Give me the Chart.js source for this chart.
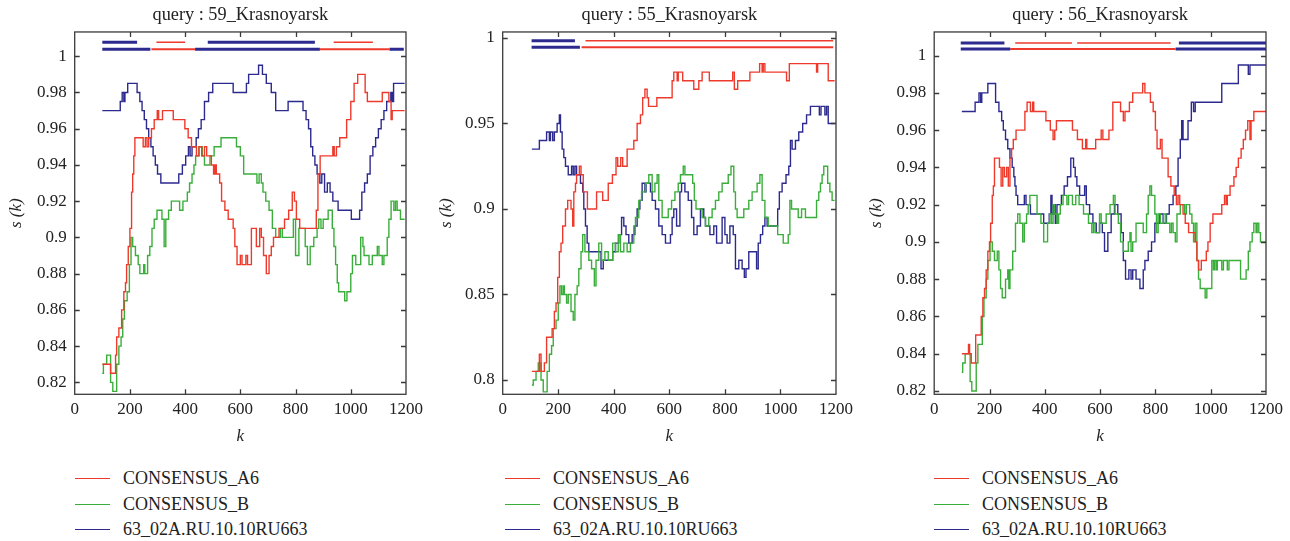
<!DOCTYPE html>
<html>
<head>
<meta charset="utf-8">
<script src="https://cdn.jsdelivr.net/npm/chart.js@4.4.1/dist/chart.umd.min.js"></script>
<style>
body { margin: 0; background: #fff; width: 1290px; height: 541px; overflow: hidden; position: relative; font-family: "Liberation Serif", "DejaVu Serif", serif; }
.panel { position: absolute; top: 0; width: 430px; height: 460px; }
.legend { position: absolute; top: 466px; font-size: 18px; color: #222; }
.legend div { position: relative; height: 25.5px; line-height: 25.5px; white-space: nowrap; padding-left: 48px; }
.legend span { position: absolute; left: 0; top: 12px; width: 35px; height: 1px; }
</style>
</head>
<body>

<div class="panel" style="left:0px"><canvas id="c1" width="430" height="460"></canvas></div>
<div class="panel" style="left:430px"><canvas id="c2" width="430" height="460"></canvas></div>
<div class="panel" style="left:860px"><canvas id="c3" width="430" height="460"></canvas></div>

<div class="legend" id="leg1" style="left:75px"></div>
<div class="legend" id="leg2" style="left:505px"></div>
<div class="legend" id="leg3" style="left:934px"></div>

<script>

// series names and colours
const seriesNames = ["CONSENSUS_A6", "CONSENSUS_B", "63_02A.RU.10.10RU663"];
const seriesColors = ["#ee3a2c", "#3aae3a", "#2c2a8e"];

const queries = ["59_Krasnoyarsk", "55_Krasnoyarsk", "56_Krasnoyarsk"];

// x ticks, y ticks
const kTicks = [0, 200, 400, 600, 800, 1000, 1200];
const yTicks1 = [0.82, 0.84, 0.86, 0.88, 0.9, 0.92, 0.94, 0.96, 0.98, 1];
const yTicks2 = [0.8, 0.85, 0.9, 0.95, 1];
const yTicks3 = [0.82, 0.84, 0.86, 0.88, 0.9, 0.92, 0.94, 0.96, 0.98, 1];

// ---- query 59 : [k, s(k)] step points
const q59Red = [[100,0.83],[130,0.825],[148,0.835],[152,0.845],[160,0.85],[170,0.86],[178,0.87],[184,0.875],[188,0.885],[194,0.895],[200,0.905],[206,0.925],[210,0.935],[214,0.945],[218,0.955],[248,0.95],[256,0.955],[262,0.95],[268,0.955],[278,0.96],[288,0.965],[299,0.97],[304,0.965],[318,0.97],[357,0.965],[399,0.96],[411,0.955],[423,0.95],[441,0.945],[450,0.95],[460,0.945],[470,0.95],[478,0.945],[495,0.94],[503,0.935],[508,0.94],[513,0.935],[525,0.93],[532,0.92],[544,0.915],[556,0.91],[574,0.905],[580,0.895],[588,0.885],[600,0.89],[606,0.885],[620,0.89],[626,0.885],[640,0.905],[658,0.895],[670,0.905],[676,0.9],[684,0.89],[694,0.88],[704,0.89],[712,0.895],[720,0.9],[740,0.905],[760,0.91],[775,0.915],[788,0.925],[796,0.92],[803,0.91],[815,0.905],[875,0.915],[881,0.935],[889,0.945],[935,0.95],[940,0.945],[948,0.95],[960,0.955],[985,0.965],[1000,0.975],[1012,0.985],[1025,0.99],[1052,0.98],[1060,0.975],[1114,0.98],[1138,0.975],[1146,0.965],[1150,0.97],[1195,0.97]];
const q59Green = [[100,0.825],[104,0.83],[116,0.835],[130,0.82],[138,0.815],[152,0.83],[160,0.84],[168,0.845],[174,0.855],[180,0.865],[190,0.87],[198,0.885],[204,0.9],[210,0.895],[220,0.89],[230,0.885],[236,0.88],[250,0.885],[254,0.88],[264,0.89],[272,0.895],[280,0.905],[288,0.91],[298,0.915],[316,0.91],[324,0.895],[330,0.91],[340,0.915],[350,0.92],[380,0.915],[392,0.92],[408,0.925],[416,0.93],[425,0.935],[432,0.94],[438,0.945],[450,0.95],[462,0.945],[470,0.94],[490,0.945],[505,0.95],[530,0.955],[586,0.95],[600,0.945],[612,0.935],[660,0.93],[668,0.935],[676,0.93],[682,0.925],[692,0.92],[704,0.915],[716,0.905],[728,0.9],[745,0.905],[752,0.9],[792,0.91],[800,0.89],[812,0.905],[835,0.895],[843,0.885],[853,0.895],[866,0.9],[878,0.905],[884,0.91],[892,0.905],[900,0.91],[918,0.915],[933,0.905],[939,0.895],[945,0.885],[951,0.875],[956,0.87],[978,0.865],[986,0.87],[1000,0.88],[1006,0.89],[1018,0.885],[1036,0.9],[1044,0.895],[1048,0.89],[1066,0.885],[1078,0.89],[1096,0.895],[1102,0.89],[1114,0.885],[1120,0.89],[1132,0.9],[1138,0.91],[1146,0.92],[1156,0.915],[1162,0.92],[1168,0.915],[1180,0.91],[1195,0.91]];
const q59Blue = [[100,0.97],[165,0.975],[172,0.98],[178,0.975],[182,0.98],[192,0.985],[226,0.98],[236,0.975],[244,0.97],[252,0.965],[260,0.96],[268,0.955],[276,0.95],[284,0.945],[292,0.94],[300,0.935],[312,0.93],[377,0.935],[390,0.94],[402,0.945],[412,0.95],[418,0.945],[425,0.95],[440,0.955],[448,0.96],[458,0.965],[470,0.975],[485,0.98],[500,0.985],[574,0.98],[622,0.985],[630,0.99],[666,0.995],[680,0.99],[694,0.985],[712,0.98],[728,0.97],[773,0.975],[827,0.97],[838,0.965],[847,0.96],[855,0.95],[862,0.945],[870,0.94],[878,0.935],[888,0.93],[895,0.935],[905,0.925],[915,0.93],[925,0.925],[935,0.92],[954,0.915],[1002,0.91],[1032,0.915],[1040,0.925],[1050,0.93],[1060,0.935],[1070,0.945],[1080,0.95],[1090,0.955],[1100,0.96],[1110,0.965],[1120,0.97],[1130,0.975],[1145,0.98],[1150,0.975],[1155,0.985],[1195,0.985]];

// ---- query 55
const q55Red = [[105,0.805],[132,0.815],[138,0.805],[150,0.81],[158,0.825],[178,0.83],[186,0.84],[192,0.845],[198,0.86],[204,0.875],[210,0.88],[216,0.89],[226,0.9],[234,0.905],[246,0.9],[252,0.89],[256,0.91],[262,0.915],[266,0.92],[276,0.925],[282,0.92],[290,0.91],[305,0.9],[338,0.91],[360,0.905],[380,0.915],[395,0.92],[408,0.93],[414,0.925],[425,0.93],[432,0.925],[448,0.935],[472,0.94],[484,0.95],[496,0.955],[504,0.965],[512,0.97],[520,0.965],[525,0.96],[555,0.965],[610,0.975],[616,0.98],[628,0.975],[632,0.98],[648,0.975],[688,0.97],[706,0.975],[718,0.98],[744,0.975],[828,0.98],[834,0.97],[846,0.975],[890,0.98],[925,0.985],[934,0.98],[938,0.985],[944,0.98],[1022,0.975],[1032,0.985],[1130,0.98],[1134,0.985],[1172,0.975],[1195,0.975]];
const q55Green = [[105,0.797],[110,0.8],[120,0.805],[128,0.81],[138,0.8],[146,0.793],[160,0.805],[168,0.815],[176,0.82],[182,0.83],[192,0.835],[200,0.845],[206,0.855],[212,0.85],[218,0.855],[222,0.85],[230,0.845],[236,0.85],[246,0.84],[254,0.835],[260,0.85],[268,0.855],[274,0.865],[282,0.875],[288,0.885],[296,0.875],[310,0.87],[320,0.865],[330,0.855],[336,0.87],[346,0.88],[356,0.87],[368,0.875],[380,0.87],[396,0.88],[406,0.875],[416,0.885],[424,0.875],[436,0.88],[448,0.875],[460,0.88],[472,0.89],[478,0.895],[490,0.905],[500,0.91],[514,0.915],[526,0.92],[538,0.91],[548,0.915],[556,0.92],[562,0.905],[574,0.895],[596,0.9],[608,0.905],[620,0.91],[632,0.915],[640,0.92],[650,0.925],[656,0.92],[684,0.915],[690,0.905],[696,0.9],[718,0.895],[730,0.89],[742,0.895],[754,0.9],[766,0.905],[778,0.91],[790,0.915],[812,0.92],[822,0.925],[832,0.91],[838,0.9],[844,0.895],[868,0.9],[886,0.905],[898,0.91],[916,0.915],[926,0.92],[934,0.905],[944,0.895],[956,0.89],[990,0.885],[1010,0.88],[1028,0.885],[1034,0.905],[1040,0.9],[1064,0.895],[1076,0.9],[1090,0.895],[1130,0.905],[1138,0.91],[1144,0.915],[1150,0.92],[1156,0.925],[1170,0.915],[1178,0.91],[1186,0.905],[1195,0.905]];
const q55Blue = [[105,0.935],[132,0.94],[158,0.945],[168,0.94],[172,0.945],[180,0.94],[186,0.945],[196,0.95],[204,0.955],[208,0.945],[214,0.935],[220,0.93],[226,0.925],[236,0.92],[248,0.925],[254,0.92],[260,0.925],[266,0.92],[280,0.915],[288,0.91],[292,0.9],[298,0.89],[304,0.88],[310,0.875],[354,0.865],[362,0.87],[396,0.875],[406,0.88],[418,0.885],[428,0.895],[436,0.89],[444,0.885],[454,0.88],[466,0.885],[476,0.89],[484,0.9],[494,0.905],[502,0.915],[512,0.91],[516,0.915],[532,0.91],[538,0.905],[550,0.9],[562,0.89],[574,0.885],[586,0.88],[604,0.885],[610,0.895],[616,0.9],[626,0.89],[638,0.91],[644,0.915],[656,0.91],[668,0.905],[680,0.895],[688,0.885],[700,0.89],[712,0.9],[724,0.895],[730,0.89],[746,0.885],[760,0.89],[770,0.88],[790,0.895],[800,0.885],[808,0.88],[818,0.89],[830,0.885],[838,0.865],[850,0.87],[862,0.865],[870,0.86],[876,0.865],[886,0.875],[914,0.865],[920,0.88],[928,0.885],[936,0.89],[944,0.895],[952,0.89],[990,0.9],[996,0.91],[1006,0.915],[1020,0.92],[1030,0.925],[1036,0.94],[1042,0.935],[1054,0.94],[1066,0.945],[1080,0.95],[1094,0.955],[1108,0.96],[1140,0.955],[1146,0.96],[1160,0.955],[1166,0.96],[1172,0.95],[1195,0.95]];

// ---- query 56
const q56Red = [[100,0.84],[124,0.845],[128,0.84],[134,0.835],[150,0.85],[170,0.86],[176,0.87],[182,0.875],[188,0.885],[194,0.895],[200,0.9],[204,0.91],[210,0.925],[214,0.93],[218,0.945],[236,0.94],[242,0.93],[248,0.94],[254,0.935],[262,0.94],[268,0.93],[274,0.945],[280,0.95],[286,0.955],[296,0.96],[328,0.97],[336,0.975],[348,0.97],[356,0.975],[360,0.97],[404,0.965],[420,0.96],[430,0.955],[436,0.96],[442,0.965],[500,0.96],[518,0.955],[536,0.95],[548,0.955],[552,0.95],[584,0.955],[604,0.96],[610,0.955],[632,0.96],[646,0.975],[674,0.97],[684,0.965],[690,0.97],[706,0.975],[718,0.98],[754,0.985],[762,0.98],[782,0.975],[792,0.97],[800,0.96],[806,0.95],[818,0.955],[824,0.945],[836,0.945],[846,0.935],[856,0.93],[868,0.925],[876,0.92],[882,0.925],[888,0.92],[900,0.915],[908,0.91],[920,0.905],[944,0.9],[950,0.89],[956,0.885],[966,0.89],[984,0.895],[990,0.9],[998,0.91],[1008,0.915],[1040,0.92],[1050,0.925],[1056,0.92],[1060,0.925],[1070,0.93],[1084,0.935],[1092,0.94],[1100,0.945],[1110,0.95],[1118,0.955],[1126,0.96],[1134,0.965],[1142,0.955],[1146,0.965],[1156,0.97],[1200,0.97]];
const q56Green = [[100,0.83],[103,0.835],[112,0.84],[130,0.825],[136,0.82],[152,0.835],[158,0.845],[174,0.86],[180,0.87],[188,0.88],[194,0.89],[202,0.9],[210,0.895],[218,0.89],[228,0.895],[234,0.885],[240,0.875],[246,0.87],[258,0.88],[266,0.885],[270,0.875],[274,0.885],[284,0.895],[294,0.91],[302,0.915],[310,0.91],[320,0.9],[326,0.91],[334,0.915],[340,0.92],[346,0.925],[372,0.915],[386,0.91],[396,0.9],[410,0.91],[418,0.915],[424,0.91],[430,0.92],[436,0.915],[444,0.91],[450,0.915],[456,0.92],[466,0.925],[480,0.92],[486,0.925],[500,0.92],[512,0.925],[524,0.92],[540,0.915],[558,0.91],[570,0.905],[576,0.91],[582,0.905],[598,0.915],[604,0.91],[622,0.915],[636,0.92],[648,0.925],[654,0.915],[666,0.91],[674,0.9],[684,0.895],[702,0.9],[708,0.905],[712,0.895],[718,0.9],[730,0.91],[756,0.905],[768,0.915],[774,0.925],[780,0.93],[786,0.925],[798,0.915],[804,0.905],[810,0.915],[818,0.91],[830,0.915],[838,0.91],[852,0.905],[858,0.91],[864,0.905],[872,0.9],[878,0.915],[890,0.92],[906,0.915],[912,0.92],[924,0.915],[932,0.91],[938,0.9],[944,0.91],[950,0.89],[956,0.88],[962,0.875],[980,0.87],[986,0.875],[1004,0.89],[1010,0.885],[1014,0.89],[1020,0.885],[1024,0.89],[1040,0.885],[1046,0.89],[1060,0.885],[1066,0.89],[1108,0.88],[1128,0.885],[1136,0.895],[1142,0.9],[1150,0.905],[1156,0.91],[1164,0.905],[1168,0.91],[1174,0.905],[1180,0.9],[1200,0.9]];
const q56Blue = [[100,0.97],[148,0.975],[162,0.98],[168,0.975],[172,0.98],[194,0.985],[222,0.975],[234,0.97],[244,0.965],[250,0.96],[258,0.955],[266,0.95],[274,0.945],[282,0.94],[288,0.935],[292,0.93],[296,0.925],[302,0.92],[326,0.925],[332,0.92],[348,0.915],[396,0.91],[416,0.915],[422,0.925],[426,0.915],[432,0.92],[438,0.91],[444,0.92],[460,0.925],[470,0.93],[482,0.935],[494,0.945],[504,0.94],[510,0.935],[516,0.93],[526,0.925],[544,0.93],[550,0.92],[562,0.915],[574,0.91],[586,0.905],[598,0.91],[608,0.905],[616,0.895],[628,0.905],[640,0.915],[652,0.92],[664,0.915],[676,0.905],[684,0.89],[692,0.88],[704,0.885],[712,0.88],[718,0.885],[730,0.88],[744,0.875],[756,0.885],[762,0.89],[774,0.895],[786,0.9],[798,0.91],[816,0.915],[828,0.91],[840,0.915],[850,0.92],[864,0.925],[874,0.93],[882,0.945],[890,0.955],[895,0.965],[900,0.955],[918,0.965],[930,0.975],[938,0.97],[944,0.975],[1040,0.985],[1100,0.995],[1136,0.99],[1142,0.995],[1200,0.995]];

// best-match windows shown as bars above the curves: [from k, to k, series index]
const q59TopBar = [[100,226,2],[296,400,0],[482,870,2],[938,1080,0]];
const q59LowBar = [[100,274,2],[278,436,0],[436,888,2],[888,1140,0],[1140,1192,2]];
const q55TopBar = [[104,260,2],[298,1190,0]];
const q55LowBar = [[104,278,2],[284,1190,0]];
const q56TopBar = [[96,254,2],[293,498,0],[517,855,0],[885,1200,2]];
const q56LowBar = [[96,275,2],[275,873,0],[873,1200,2]];


const serif = "'Liberation Serif', 'DejaVu Serif', serif";

const framePlugin = {
    id: "frame",
    afterDatasetsDraw(chart) {
        const { ctx, chartArea: a, scales } = chart;
        ctx.save();
        ctx.strokeStyle = "#3a3a3a";
        ctx.lineWidth = 1.3;
        ctx.strokeRect(a.left, a.top, a.right - a.left, a.bottom - a.top);
        ctx.beginPath();
        scales.x.ticks.forEach(t => {
            const px = Math.round(scales.x.getPixelForValue(t.value)) + 0.5;
            if (px <= a.left + 1 || px >= a.right - 1) return;
            ctx.moveTo(px, a.bottom); ctx.lineTo(px, a.bottom - 5);
            ctx.moveTo(px, a.top); ctx.lineTo(px, a.top + 5);
        });
        scales.y.ticks.forEach(t => {
            const py = Math.round(scales.y.getPixelForValue(t.value)) + 0.5;
            ctx.moveTo(a.left, py); ctx.lineTo(a.left + 5, py);
            ctx.moveTo(a.right, py); ctx.lineTo(a.right - 5, py);
        });
        ctx.stroke();
        ctx.restore();
    }
};


function toPoints(list) {
    return list.map(p => ({ x: p[0], y: p[1] }));
}

function barDatasets(bars, level, thin) {
    return bars.map(b => ({
        data: [{ x: b[0], y: level }, { x: b[1], y: level }],
        borderColor: seriesColors[b[2]],
        borderWidth: b[2] === 2 ? 3 : (thin ? 1.5 : 2),
        pointRadius: 0,
        fill: false
    }));
}

function makePanel(id, title, series, topBar, lowBar, yMin, yMax, yTicks, levels, yWidth) {

    const datasets = [];

    series.forEach((s, i) => {
        datasets.push({
            label: seriesNames[i],
            data: toPoints(s),
            borderColor: seriesColors[i],
            borderWidth: 1.4,
            stepped: true,
            pointRadius: 0,
            fill: false
        });
    });

    barDatasets(topBar, levels[0], true).forEach(d => datasets.push(d));
    barDatasets(lowBar, levels[1], false).forEach(d => datasets.push(d));

    new Chart(document.getElementById(id), {
        type: "line",
        data: { datasets: datasets },
        plugins: [framePlugin],
        options: {
            responsive: false,
            animation: false,
            layout: { padding: { left: 0, right: 24, top: 0, bottom: 0 } },
            plugins: {
                legend: { display: false },
                tooltip: { enabled: false },
                title: {
                    display: true,
                    fullSize: false,
                    text: "query : " + title,
                    color: "#222",
                    font: { family: serif, size: 18.3, weight: "normal", lineHeight: 1.2 },
                    padding: { top: 4, bottom: 6 }
                }
            },
            scales: {
                x: {
                    type: "linear",
                    min: 0,
                    max: 1200,
                    afterBuildTicks: sc => { sc.ticks = kTicks.map(v => ({ value: v })); },
                    afterFit: sc => { sc.height = 65.7; },
                    grid: { display: false, drawTicks: false },
                    border: { display: false },
                    ticks: {
                        color: "#222",
                        padding: 5,
                        maxRotation: 0,
                        font: { family: serif, size: 17 },
                        callback: v => String(v)
                    },
                    title: {
                        display: true,
                        text: "k",
                        color: "#222",
                        font: { family: serif, size: 17, style: "italic" },
                        padding: { top: 0, bottom: 13 }
                    }
                },
                y: {
                    min: yMin,
                    max: yMax,
                    afterBuildTicks: sc => { sc.ticks = yTicks.map(v => ({ value: v })); },
                    afterFit: sc => { sc.width = yWidth; },
                    grid: { display: false, drawTicks: false },
                    border: { display: false },
                    ticks: {
                        color: "#222",
                        padding: 8,
                        font: { family: serif, size: 17 },
                        callback: v => String(Math.round(v * 100) / 100)
                    },
                    title: {
                        display: true,
                        text: "s (k)",
                        color: "#222",
                        font: { family: serif, size: 17, style: "italic" },
                        padding: { top: 6, bottom: 0 }
                    }
                }
            }
        }
    });
}

function makeLegend(id) {
    const box = document.getElementById(id);
    seriesNames.forEach((name, i) => {
        const row = document.createElement("div");
        row.innerHTML = `<span style="background:${seriesColors[i]}"></span>${name}`;
        box.appendChild(row);
    });
}

makePanel("c1", queries[0], [q59Red, q59Green, q59Blue], q59TopBar, q59LowBar, 0.8134, 1.0134, yTicks1, [1.0077, 1.0039], 74.7);
makePanel("c2", queries[1], [q55Red, q55Green, q55Blue], q55TopBar, q55LowBar, 0.7916, 1.0035, yTicks2, [0.9984, 0.9945], 72.7);
makePanel("c3", queries[2], [q56Red, q56Green, q56Blue], q56TopBar, q56LowBar, 0.8182, 1.0127, yTicks3, [1.0068, 1.0036], 74.2);

makeLegend("leg1");
makeLegend("leg2");
makeLegend("leg3");

</script>
</body>
</html>
